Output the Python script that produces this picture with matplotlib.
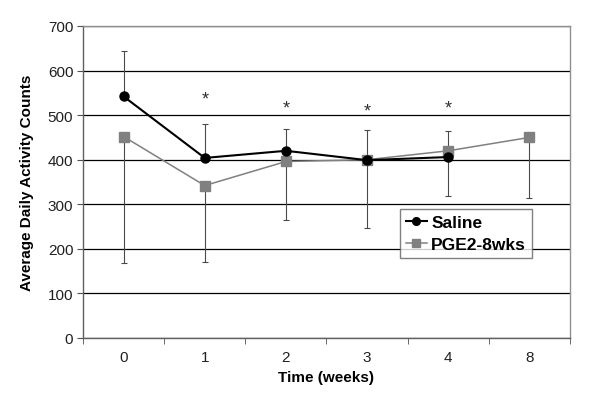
import matplotlib
matplotlib.use("Agg")
import matplotlib.pyplot as plt
import numpy as np

weeks = ["0", "1", "2", "3", "4", "8"]
saline = [542, 404, 420, 399, 406]
saline_err_up = [103, 76, 50, 68, 58]
pge2 = [452, 342, 396, 400, 420, 450]
pge2_err_down = [284, 171, 132, 154, 102, 137]
star_weeks = [1, 2, 3, 4]
star_y = [536, 517, 510, 517]

plt.rcParams['font.family'] = ['Liberation Sans', 'DejaVu Sans']

fig = plt.figure(figsize=(6.0, 4.1), dpi=100)
ax = fig.add_axes([83/600, 1-339/410, (570-83)/600, (339-27)/410])

x = np.arange(len(weeks))
xs = x[:len(saline)]

ax.set_ylim(0, 700)
ax.set_xlim(-0.5, len(weeks)-0.5)
ax.set_yticks(np.arange(0, 701, 100))
ax.yaxis.grid(True, color='black', linewidth=0.9)
ax.set_axisbelow(True)

ax.errorbar(xs, saline, yerr=[np.zeros(len(saline)), saline_err_up], fmt='none',
            ecolor='#4a4a4a', elinewidth=0.8, capsize=2.5, capthick=0.8, zorder=2)
ax.errorbar(x, pge2, yerr=[pge2_err_down, np.zeros(len(pge2))], fmt='none',
            ecolor='#4a4a4a', elinewidth=0.8, capsize=2.5, capthick=0.8, zorder=2)

ax.plot(x, pge2, color='#808080', linewidth=1.1, marker='s', markersize=6.5,
        markerfacecolor='#808080', markeredgecolor='#808080', label='PGE2-8wks', zorder=3)
ax.plot(xs, saline, color='black', linewidth=1.5, marker='o', markersize=6.5,
        markerfacecolor='black', label='Saline', zorder=4)

for w, yv in zip(star_weeks, star_y):
    ax.text(w, yv, '*', ha='center', va='center', fontsize=13, color='#303030')

ax.set_xticks(x)
ax.set_xticklabels(weeks)
ax.set_xticks(np.arange(-0.5, len(weeks), 1.0), minor=True)
ax.tick_params(axis='x', which='major', length=0, pad=9, labelsize=11, labelcolor='#202020')
ax.tick_params(axis='x', which='minor', length=4, direction='out', color='#505050')
ax.tick_params(axis='y', length=4, direction='out', labelsize=11, color='#505050', labelcolor='#202020', pad=3)

for s in ['top', 'right']:
    ax.spines[s].set_color('#909090')
    ax.spines[s].set_linewidth(1.0)
for s in ['left', 'bottom']:
    ax.spines[s].set_color('#606060')
    ax.spines[s].set_linewidth(1.0)

ax.set_xlabel('Time (weeks)', fontsize=11, fontweight='bold', labelpad=4)
ax.set_ylabel('Average Daily Activity Counts', fontsize=11, fontweight='bold', labelpad=10)

handles, labels = ax.get_legend_handles_labels()
leg = ax.legend(handles[::-1], labels[::-1], loc='upper left',
                bbox_to_anchor=((400-83)/487, (339-210)/312),
                prop={'weight': 'bold', 'size': 12.5}, frameon=True, fancybox=False,
                edgecolor='#606060', handlelength=1.2, handletextpad=0.25,
                borderpad=0.35, labelspacing=0.4, borderaxespad=0, markerscale=0.85)
leg.get_frame().set_linewidth(1.0)

fig.savefig('out.png', dpi=100)
